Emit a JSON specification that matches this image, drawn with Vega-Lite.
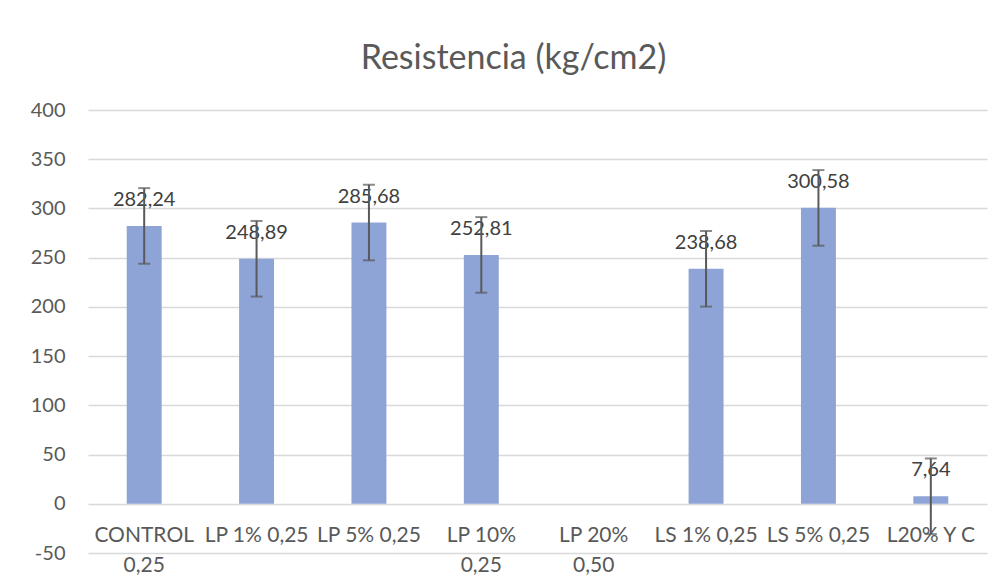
{
  "$schema": "https://vega.github.io/schema/vega-lite/v6.json",
  "autosize": "none",
  "width": 899,
  "height": 443,
  "padding": {"left": 88, "top": 110, "right": 15, "bottom": 33},
  "background": "#ffffff",
  "title": {
    "text": "Resistencia (kg/cm2)",
    "fontSize": 34,
    "font": "Lato",
    "fontWeight": "normal",
    "color": "#595959",
    "anchor": "middle",
    "dx": -24,
    "offset": 24
  },
  "data": {
    "values": [
      {"cat": "CONTROL\n0,25", "value": 282.24, "lo": 243.84, "hi": 320.64},
      {"cat": "LP 1% 0,25", "value": 248.89, "lo": 210.49, "hi": 287.29},
      {"cat": "LP 5% 0,25", "value": 285.68, "lo": 247.28, "hi": 324.08},
      {"cat": "LP 10%\n0,25", "value": 252.81, "lo": 214.41, "hi": 291.21},
      {"cat": "LP 20%\n0,50", "value": null, "lo": null, "hi": null},
      {"cat": "LS 1% 0,25", "value": 238.68, "lo": 200.28, "hi": 277.08},
      {"cat": "LS 5% 0,25", "value": 300.58, "lo": 262.18, "hi": 338.98},
      {"cat": "L20% Y C", "value": 7.64, "lo": -30.76, "hi": 46.04}
    ]
  },
  "encoding": {
    "x": {
      "field": "cat",
      "type": "nominal",
      "sort": null,
      "scale": {
        "domain": ["CONTROL\n0,25", "LP 1% 0,25", "LP 5% 0,25", "LP 10%\n0,25", "LP 20%\n0,50", "LS 1% 0,25", "LS 5% 0,25", "L20% Y C"],
        "paddingInner": 0,
        "paddingOuter": 0
      },
      "axis": {
        "title": null,
        "labelAngle": 0,
        "labelExpr": "split(datum.label, '\\n')",
        "labelLineHeight": 30,
        "labelFontSize": 21,
        "labelFont": "Lato",
        "labelColor": "#595959",
        "labelPadding": 21,
        "labelLimit": 0,
        "ticks": false,
        "domain": false,
        "grid": false,
        "offset": -49.22
      }
    }
  },
  "layer": [
    {
      "mark": {"type": "bar", "width": {"band": 0.311}, "color": "#8FA4D6"},
      "encoding": {
        "y": {
          "field": "value",
          "type": "quantitative",
          "scale": {"domain": [-50, 400], "nice": false, "zero": false},
          "axis": {
            "title": null,
            "values": [-50, 0, 50, 100, 150, 200, 250, 300, 350, 400],
            "grid": true,
            "gridColor": "#d9d9d9",
            "gridWidth": 1.5,
            "domain": false,
            "ticks": false,
            "labelPadding": 23,
            "labelFontSize": 20,
            "labelFont": "Lato",
            "labelColor": "#595959"
          }
        }
      }
    },
    {
      "transform": [{"filter": "isValid(datum.value)"}],
      "mark": {"type": "text", "baseline": "middle", "dy": -26, "fontSize": 20, "font": "Lato", "color": "#404040"},
      "encoding": {
        "y": {"field": "value", "type": "quantitative"},
        "text": {"field": "value", "type": "quantitative", "format": ".2f"}
      }
    },
    {
      "transform": [{"filter": "isValid(datum.value)"}],
      "mark": {"type": "rule", "color": "#595959", "strokeWidth": 2},
      "encoding": {
        "y": {"field": "lo", "type": "quantitative"},
        "y2": {"field": "hi"}
      }
    },
    {
      "transform": [{"filter": "isValid(datum.value)"}],
      "mark": {"type": "tick", "color": "#595959", "thickness": 2, "size": 12},
      "encoding": {
        "y": {"field": "lo", "type": "quantitative"}
      }
    },
    {
      "transform": [{"filter": "isValid(datum.value)"}],
      "mark": {"type": "tick", "color": "#595959", "thickness": 2, "size": 12},
      "encoding": {
        "y": {"field": "hi", "type": "quantitative"}
      }
    }
  ],
  "config": {
    "view": {"stroke": null},
    "locale": {
      "number": {
        "decimal": ",",
        "thousands": ".",
        "grouping": [3],
        "currency": ["", " €"],
        "minus": "-"
      }
    }
  }
}
